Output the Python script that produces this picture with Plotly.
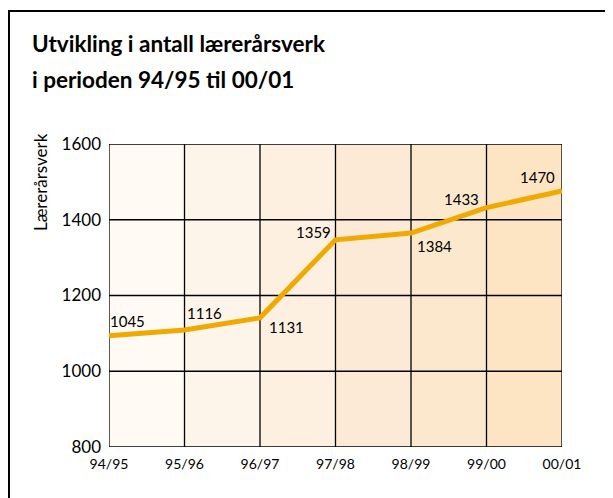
import plotly.graph_objects as go

categories = ["94/95", "95/96", "96/97", "97/98", "98/99", "99/00", "00/01"]
line_values = [1094, 1109, 1141, 1347, 1365, 1432, 1476]
label_texts = ["1045", "1116", "1131", "1359", "1384", "1433", "1470"]
y_ticks = [800, 1000, 1200, 1400, 1600]

# label offsets (px) relative to each point
label_dx = [18, 20, 26, -22, 23, -25, -25]
label_dy = [15, 17, -9, 8, -13, 9, 14]
band_colors = ["#fffaf3", "#fef5ea", "#fef0e0", "#fdead6", "#fce9cd", "#fde4c3"]

FONT = "Lato"
x_idx = list(range(len(categories)))

fig = go.Figure()
fig.add_trace(go.Scatter(
    x=x_idx, y=line_values, mode="lines",
    line=dict(color="#f0a900", width=5), hoverinfo="skip", showlegend=False,
    cliponaxis=False,
))

shapes = []
for i, c in enumerate(band_colors):
    shapes.append(dict(type="rect", xref="x", yref="y", x0=i, x1=i + 1,
                       y0=y_ticks[0], y1=y_ticks[-1], fillcolor=c,
                       line=dict(width=0), layer="below"))
# grid lines on top of the bands, below the data line
for xv in x_idx:
    shapes.append(dict(type="line", xref="x", yref="y", x0=xv, x1=xv,
                       y0=y_ticks[0], y1=y_ticks[-1],
                       line=dict(color="#000", width=1.3), layer="below"))
for yv in y_ticks:
    shapes.append(dict(type="line", xref="x", yref="y", x0=x_idx[0], x1=x_idx[-1],
                       y0=yv, y1=yv,
                       line=dict(color="#000", width=1.3), layer="below"))
# outer frame (top and left visible)
shapes.append(dict(type="rect", xref="paper", yref="paper",
                   x0=-0.2208, x1=1.3, y0=-0.3, y1=1.439,
                   line=dict(color="#000000", width=2), layer="above"))

annotations = []
for i, t in enumerate(label_texts):
    annotations.append(dict(x=x_idx[i], y=line_values[i], xref="x", yref="y",
                            text=t, showarrow=False, xshift=label_dx[i],
                            yshift=label_dy[i],
                            font=dict(family=FONT, size=15, color="#000")))
annotations.append(dict(x=-0.1744, y=1.333, xref="paper", yref="paper",
                        text="<b>Utvikling i antall lærerårsverk</b>",
                        showarrow=False, xanchor="left", yanchor="middle",
                        font=dict(family=FONT, size=22.5, color="#000")))
annotations.append(dict(x=-0.1744, y=1.2145, xref="paper", yref="paper",
                        text="<b>i perioden 94/95 til 00/01</b>",
                        showarrow=False, xanchor="left", yanchor="middle",
                        font=dict(family=FONT, size=22.5, color="#000")))
annotations.append(dict(x=-0.150, y=0.8746, xref="paper", yref="paper",
                        text="Lærerårsverk", textangle=-90,
                        showarrow=False, xanchor="center", yanchor="middle",
                        font=dict(family=FONT, size=17, color="#000")))

fig.update_layout(
    width=605, height=490,
    margin=dict(l=101, r=51, t=136, b=51),
    paper_bgcolor="#ffffff", plot_bgcolor="#ffffff",
    shapes=shapes, annotations=annotations,
    xaxis=dict(range=[0, 6], tickvals=x_idx, ticktext=categories,
               showgrid=False, showline=False,
               zeroline=False, ticks="", ticklabelstandoff=7,
               tickfont=dict(family=FONT, size=14, color="#000")),
    yaxis=dict(range=[800, 1600], tickvals=y_ticks,
               showgrid=False, showline=False,
               zeroline=False, ticks="", ticklabelstandoff=7,
               tickfont=dict(family=FONT, size=17, color="#000")),
)

fig.write_html("out.html")
